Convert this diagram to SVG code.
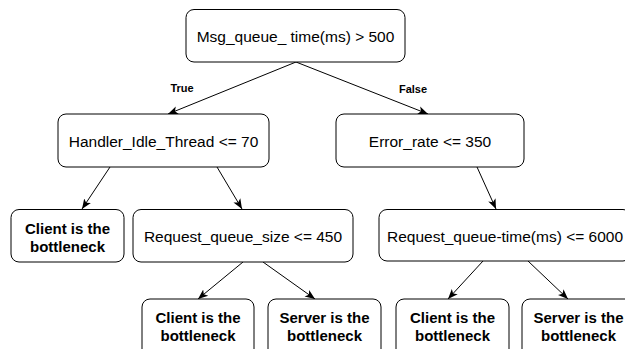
<svg xmlns="http://www.w3.org/2000/svg" width="625" height="349" viewBox="0 0 625 349">
<style>
.box{fill:#fff;stroke:#000;stroke-width:1}
.t{font-family:"Liberation Sans",Arial,Helvetica,sans-serif;font-size:15.5px;fill:#000;text-anchor:middle}
.b{font-family:"Liberation Sans",Arial,Helvetica,sans-serif;font-size:15px;font-weight:bold;fill:#000;text-anchor:middle}
.lbl{font-family:"Liberation Sans",Arial,Helvetica,sans-serif;font-size:11px;font-weight:bold;fill:#000;text-anchor:middle}
.c{stroke:#000;stroke-width:1;fill:none;marker-end:url(#arr)}
</style>
<defs>
<marker id="arr" viewBox="0 0 10 10" refX="10" refY="5" markerWidth="10" markerHeight="10" markerUnits="userSpaceOnUse" orient="auto">
<path d="M0,1 L10,5 L0,9 L2.5,5 Z" fill="#000"/>
</marker>
</defs>
<g id="connectors">
<line class="c" x1="296" y1="62" x2="168" y2="114"/>
<line class="c" x1="296" y1="62" x2="428" y2="114"/>
<line class="c" x1="110" y1="167" x2="82" y2="209"/>
<line class="c" x1="217" y1="167" x2="242" y2="209"/>
<line class="c" x1="477" y1="167" x2="496" y2="209"/>
<line class="c" x1="243" y1="262" x2="198" y2="299"/>
<line class="c" x1="263" y1="262" x2="315" y2="299"/>
<line class="c" x1="483" y1="261" x2="448" y2="299"/>
<line class="c" x1="528" y1="261" x2="568" y2="299"/>
<text class="lbl" x="182" y="92">True</text>
<text class="lbl" x="413" y="92.5">False</text>
</g>
<g id="root">
<rect class="box" x="186" y="9.5" width="219" height="52.5" rx="8"/>
<text class="t" x="295.5" y="41.5">Msg_queue_ time(ms) &gt; 500</text>
</g>
<g id="handler">
<rect class="box" x="58" y="114" width="211" height="53" rx="8"/>
<text class="t" x="163.5" y="147">Handler_Idle_Thread &lt;= 70</text>
</g>
<g id="error">
<rect class="box" x="336" y="114" width="188" height="53" rx="8"/>
<text class="t" x="430" y="147">Error_rate &lt;= 350</text>
</g>
<g id="client1">
<rect class="box" x="11" y="209.5" width="113" height="52.5" rx="8"/>
<text class="b" x="67.5" y="233.5">Client is the</text>
<text class="b" x="67.5" y="251.5">bottleneck</text>
</g>
<g id="reqsize">
<rect class="box" x="133" y="209.5" width="220" height="52.5" rx="8"/>
<text class="t" x="243" y="242">Request_queue_size &lt;= 450</text>
</g>
<g id="reqtime">
<rect class="box" x="379" y="209.5" width="252" height="51.5" rx="8"/>
<text class="t" x="505" y="241.5">Request_queue-time(ms) &lt;= 6000</text>
</g>
<g id="client2">
<rect class="box" x="142" y="299" width="112" height="60" rx="8"/>
<text class="b" x="198" y="322.5">Client is the</text>
<text class="b" x="198" y="340.5">bottleneck</text>
</g>
<g id="server1">
<rect class="box" x="268" y="299" width="113" height="60" rx="8"/>
<text class="b" x="324.5" y="322.5">Server is the</text>
<text class="b" x="324.5" y="340.5">bottleneck</text>
</g>
<g id="client3">
<rect class="box" x="396" y="299" width="113" height="60" rx="8"/>
<text class="b" x="452.5" y="322.5">Client is the</text>
<text class="b" x="452.5" y="340.5">bottleneck</text>
</g>
<g id="server2">
<rect class="box" x="522" y="299" width="113" height="60" rx="8"/>
<text class="b" x="578.5" y="322.5">Server is the</text>
<text class="b" x="578.5" y="340.5">bottleneck</text>
</g>
</svg>
